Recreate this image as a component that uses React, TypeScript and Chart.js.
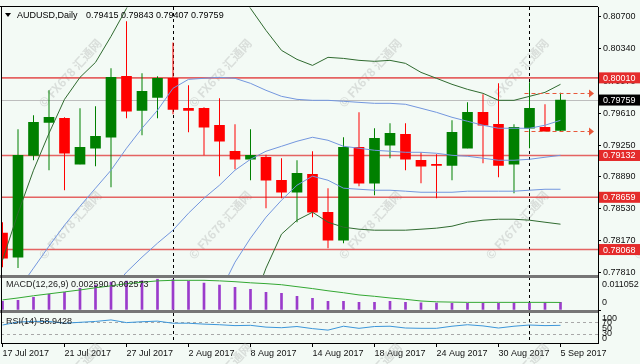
import React, { useEffect, useRef } from 'react';
import { Chart, registerables } from 'chart.js';

Chart.register(...registerables);

// ---------- DATA ----------
const symbolTitle = 'AUDUSD,Daily';
const dates = ['17 Jul 2017','18 Jul 2017','19 Jul 2017','20 Jul 2017','21 Jul 2017','24 Jul 2017','25 Jul 2017','26 Jul 2017','27 Jul 2017','28 Jul 2017','31 Jul 2017','1 Aug 2017','2 Aug 2017','3 Aug 2017','4 Aug 2017','7 Aug 2017','8 Aug 2017','9 Aug 2017','10 Aug 2017','11 Aug 2017','14 Aug 2017','15 Aug 2017','16 Aug 2017','17 Aug 2017','18 Aug 2017','21 Aug 2017','22 Aug 2017','23 Aug 2017','24 Aug 2017','25 Aug 2017','28 Aug 2017','29 Aug 2017','30 Aug 2017','31 Aug 2017','1 Sep 2017','4 Sep 2017','5 Sep 2017'];
const opens = [0.78253,0.77982,0.79134,0.79507,0.79552,0.79033,0.79214,0.79338,0.80027,0.79643,0.79790,0.80005,0.79666,0.79666,0.79474,0.79180,0.79089,0.79112,0.78852,0.78716,0.78920,0.78490,0.78174,0.79225,0.78818,0.79248,0.79372,0.79078,0.79033,0.79021,0.79214,0.79620,0.79485,0.79033,0.79440,0.79451,0.79415];
const highs = [0.78377,0.79428,0.79587,0.79869,0.79564,0.79666,0.79688,0.80118,0.80649,0.80061,0.80027,0.80411,0.79926,0.79677,0.79779,0.79485,0.79428,0.79140,0.79101,0.79078,0.79180,0.78762,0.79338,0.79620,0.79440,0.79496,0.79496,0.79168,0.79146,0.79530,0.79733,0.79824,0.79948,0.79485,0.79960,0.79711,0.79843];
const lows = [0.77869,0.77858,0.79078,0.78965,0.78739,0.79033,0.79010,0.78773,0.79553,0.79361,0.79553,0.79598,0.79394,0.79134,0.78897,0.78976,0.78852,0.78536,0.78649,0.78377,0.78434,0.78084,0.78140,0.78784,0.78683,0.79101,0.78965,0.78818,0.78649,0.78852,0.79214,0.79044,0.78886,0.78705,0.79214,0.79406,0.79407];
const closes = [0.77971,0.79134,0.79507,0.79564,0.79157,0.79225,0.79350,0.80016,0.79632,0.79858,0.80005,0.79654,0.79643,0.79451,0.79293,0.79089,0.79134,0.78852,0.78716,0.78931,0.78490,0.78174,0.79225,0.78818,0.79327,0.79383,0.79089,0.79010,0.79021,0.79394,0.79620,0.79474,0.79021,0.79451,0.79666,0.79406,0.79759];

const bandOuterUpper = [0.77948,0.78479,0.78965,0.79383,0.79767,0.80016,0.80185,0.80479,0.80796,0.81135,null,null,null,null,null,0.81044,0.80796,0.80547,0.80321,0.80219,0.80151,0.80242,0.80230,0.80208,0.80197,0.80208,0.80174,0.80072,0.80005,0.79937,0.79880,0.79835,0.79756,0.79756,0.79801,0.79846,0.79937];
const bandInnerUpper = [null,0.77609,0.77858,0.78106,0.78344,0.78558,0.78762,0.78965,0.79214,0.79440,0.79643,0.79892,0.79993,0.80005,0.80016,0.80005,0.79948,0.79869,0.79801,0.79767,0.79756,0.79756,0.79745,0.79733,0.79722,0.79722,0.79711,0.79666,0.79620,0.79564,0.79519,0.79474,0.79440,0.79440,0.79440,0.79474,0.79530];
const bandMiddle = [null,null,null,null,null,null,null,0.77609,0.77812,0.77982,0.78140,0.78287,0.78479,0.78649,0.78796,0.78965,0.79089,0.79180,0.79236,0.79293,0.79338,0.79304,0.79236,0.79214,0.79191,0.79180,0.79168,0.79168,0.79157,0.79134,0.79123,0.79101,0.79078,0.79078,0.79089,0.79112,0.79134];
const bandInnerLower = [null,null,null,null,null,null,null,null,null,null,null,null,null,null,0.77575,0.77925,0.78197,0.78434,0.78626,0.78796,0.78898,0.78852,0.78762,0.78750,0.78739,0.78739,0.78728,0.78716,0.78716,0.78716,0.78728,0.78728,0.78728,0.78728,0.78739,0.78750,0.78750];
const bandOuterLower = [null,null,null,null,null,null,null,null,null,null,null,null,null,null,null,null,0.77383,0.77858,0.78242,0.78400,0.78490,0.78377,0.78321,0.78298,0.78287,0.78287,0.78287,0.78298,0.78310,0.78332,0.78377,0.78400,0.78411,0.78411,0.78400,0.78377,0.78355];

const macdMain = [0.00295,0.00332,0.00442,0.00553,0.00626,0.00774,0.00884,0.00995,0.01032,0.01040,0.011052,0.01090,0.01032,0.00958,0.00884,0.00810,0.00737,0.00626,0.00589,0.00479,0.00405,0.00295,0.00295,0.00258,0.00258,0.00295,0.00258,0.00240,0.00230,0.00225,0.00225,0.00225,0.00225,0.00230,0.00235,0.00240,0.00259];
const macdSignal = [0.0035,0.0042,0.0050,0.0057,0.0064,0.0071,0.0079,0.0086,0.0094,0.0099,0.0104,0.0106,0.0106,0.0106,0.0104,0.0101,0.0097,0.0094,0.0090,0.0083,0.0076,0.0068,0.0061,0.0053,0.0048,0.0042,0.0037,0.0031,0.0028,0.0027,0.0026,0.0026,0.0026,0.0026,0.0026,0.0026,0.002573];
const rsiValues = [60,70,72,72,66,69,72,77,68,71,73,66,66,63,61,58,59,53,51,55,48,43,56,49,55,56,50,49,49,56,61,57,50,56,60,58,58.9428];

const priceTicks = [0.80700,0.80340,0.79970,0.79610,0.79250,0.78890,0.78530,0.78170,0.77810];
const levelLines = [0.80010,0.79132,0.78659,0.78068];
const dateTickIndex = [0,4,8,12,16,20,24,28,32,36];
const monthStarts = ['1 Aug 2017','1 Sep 2017'];
const rsiLevels = [70,30];
const rsiAxisLabels = [100,70,50,30,0];
const watermark = '© FX678 汇通网';

// ---------- STYLE / LAYOUT ----------
const W = 640, H = 364;
const PL = 1, PR = 598, PT = 7, PB = 343;
const MAIN_BOTTOM = 275, MACD_TOP = 278, MACD_BOTTOM = 310, RSI_TOP = 313;
const BG = '#F3FAF5';
const GREEN = '#008000', RED = '#FF0000';
const BLUE_BAND = '#7396DE', GREEN_BAND = '#2F6A2F';
const FONT = "'Liberation Sans', Arial, sans-serif";

const mainClip = { left: 0, top: 0, right: 0, bottom: -(PB - MAIN_BOTTOM) };
const macdClip = { left: 0, top: -(MACD_TOP - PT), right: 0, bottom: -(PB - MACD_BOTTOM) };
const rsiClip = { left: 0, top: -(RSI_TOP - PT), right: 0, bottom: 0 };

const idx = dates.map((_, i) => i);
const isUp = idx.map(i => closes[i] >= opens[i]);
const candleColors = idx.map(i => (isUp[i] ? GREEN : RED));

const lineDs = (data: (number | null)[], color: string) => ({
  type: 'line' as const,
  data: idx.map(i => ({ x: i, y: data[i] })),
  borderColor: color,
  borderWidth: 1,
  pointRadius: 0,
  tension: 0,
  spanGaps: false,
  yAxisID: 'y',
  order: 1,
  clip: mainClip,
});

const overlay = {
  id: 'mt4overlay',
  beforeDraw(chart: any) {
    const { ctx } = chart;
    ctx.save();
    ctx.fillStyle = BG;
    ctx.fillRect(0, 0, W, H);
    ctx.restore();
  },
  beforeDatasetsDraw(chart: any) {
    const { ctx } = chart;
    const xs = chart.scales.x, ys = chart.scales.y, yr = chart.scales.yR;
    ctx.save();
    // watermarks
    ctx.beginPath();
    ctx.rect(PL, PT, W - PL, PB - PT + 30);
    ctx.clip();
    ctx.font = "bold 12px 'Noto Sans CJK SC', sans-serif";
    ctx.fillStyle = 'rgba(150,150,150,0.28)';
    ctx.textAlign = 'center';
    ctx.textBaseline = 'middle';
    [73, 225, 377].forEach(cy => {
      [70, 220, 370, 517, 665].forEach(cx => {
        ctx.save();
        ctx.translate(cx, cy);
        ctx.rotate(-48 * Math.PI / 180);
        ctx.fillText(watermark, 0, 0);
        ctx.restore();
      });
    });
    ctx.restore();

    ctx.save();
    // month separators
    ctx.strokeStyle = '#000';
    ctx.lineWidth = 1;
    ctx.setLineDash([3, 3]);
    monthStarts.forEach(d => {
      const i = dates.indexOf(d);
      const x = Math.round(xs.getPixelForValue(i)) + 0.5;
      ctx.beginPath();
      ctx.moveTo(x, PT);
      ctx.lineTo(x, PB);
      ctx.stroke();
    });
    // rsi levels
    ctx.strokeStyle = '#A8A8A8';
    ctx.setLineDash([3, 3]);
    rsiLevels.forEach(v => {
      const y = Math.round(yr.getPixelForValue(v)) + 0.5;
      ctx.beginPath();
      ctx.moveTo(PL, y);
      ctx.lineTo(PR, y);
      ctx.stroke();
    });
    ctx.setLineDash([]);
    // last price line
    const ly = Math.round(ys.getPixelForValue(closes[closes.length - 1])) + 0.5;
    ctx.strokeStyle = '#BDBDBD';
    ctx.beginPath();
    ctx.moveTo(PL, ly);
    ctx.lineTo(PR, ly);
    ctx.stroke();
    // horizontal levels
    ctx.strokeStyle = 'rgba(226,72,72,0.85)';
    ctx.lineWidth = 1.6;
    levelLines.forEach(v => {
      const y = ys.getPixelForValue(v);
      ctx.beginPath();
      ctx.moveTo(PL, y);
      ctx.lineTo(PR, y);
      ctx.stroke();
    });
    ctx.restore();
  },
  afterDatasetsDraw(chart: any) {
    const { ctx } = chart;
    const xs = chart.scales.x, ys = chart.scales.y;
    ctx.save();
    // pane separators
    ctx.fillStyle = '#767676';
    ctx.fillRect(0, MAIN_BOTTOM, PR, MACD_TOP - MAIN_BOTTOM);
    ctx.fillRect(0, MACD_BOTTOM, PR, RSI_TOP - MACD_BOTTOM);
    // frame
    ctx.strokeStyle = '#000';
    ctx.lineWidth = 1;
    ctx.beginPath();
    ctx.moveTo(0, PT - 0.5);
    ctx.lineTo(PR, PT - 0.5);
    ctx.moveTo(PL + 0.5, PT);
    ctx.lineTo(PL + 0.5, PB);
    ctx.stroke();

    // dashed high/low arrows of last bar
    const last = idx.length - 1;
    const xStart = xs.getPixelForValue(last) - 36;
    const xEnd = PR - 4;
    ctx.strokeStyle = '#E8583A';
    ctx.fillStyle = '#E8583A';
    ctx.setLineDash([4, 3]);
    [highs[last], lows[last]].forEach(v => {
      const y = Math.round(ys.getPixelForValue(v)) + 0.5;
      ctx.beginPath();
      ctx.moveTo(xStart, y);
      ctx.lineTo(xEnd - 3, y);
      ctx.stroke();
      ctx.beginPath();
      ctx.moveTo(xEnd - 5, y - 4);
      ctx.lineTo(xEnd, y);
      ctx.lineTo(xEnd - 5, y + 4);
      ctx.closePath();
      ctx.fill();
    });
    ctx.setLineDash([]);

    // title
    ctx.fillStyle = '#000';
    ctx.beginPath();
    ctx.moveTo(5, 13);
    ctx.lineTo(11, 13);
    ctx.lineTo(8, 17);
    ctx.closePath();
    ctx.fill();
    ctx.font = `9px ${FONT}`;
    ctx.textBaseline = 'middle';
    ctx.textAlign = 'left';
    ctx.fillText(symbolTitle, 17, 15.5);
    const ohlc = [opens[last], highs[last], lows[last], closes[last]].map(v => v.toFixed(5)).join(' ');
    ctx.fillText(ohlc, 86, 15.5);

    // indicator labels
    ctx.fillStyle = '#222';
    ctx.fillText(`MACD(12,26,9) ${macdMain[last].toFixed(6)} ${macdSignal[last].toFixed(6)}`, 6, MACD_TOP + 7);
    ctx.fillText(`RSI(14) ${rsiValues[last].toFixed(4)}`, 6, RSI_TOP + 8.5);
    ctx.restore();
  },
  afterDraw(chart: any) {
    const { ctx } = chart;
    const ys = chart.scales.y, ym = chart.scales.yM, yr = chart.scales.yR;
    ctx.save();
    ctx.font = `9px ${FONT}`;
    ctx.textBaseline = 'middle';
    ctx.textAlign = 'left';
    // level boxes
    levelLines.forEach(v => {
      const y = ys.getPixelForValue(v);
      ctx.fillStyle = '#E42B2B';
      ctx.fillRect(PR + 1, y - 5.5, W - PR - 1, 11);
      ctx.fillStyle = '#FFFFFF';
      ctx.fillText(v.toFixed(5), PR + 5, y + 0.5);
    });
    const lp = closes[closes.length - 1];
    const lyy = ys.getPixelForValue(lp);
    ctx.fillStyle = '#000';
    ctx.fillRect(PR + 1, lyy - 5.5, W - PR - 1, 11);
    ctx.fillStyle = '#FFFFFF';
    ctx.fillText(lp.toFixed(5), PR + 5, lyy + 0.5);

    // macd axis labels
    ctx.fillStyle = '#111';
    const macdMax = Math.max(...macdMain);
    const clampM = (y: number) => Math.min(Math.max(y, MACD_TOP + 7), MACD_BOTTOM - 7);
    ctx.fillText(macdMax.toFixed(6), PR + 4, clampM(ym.getPixelForValue(macdMax)));
    ctx.fillText('0', PR + 4, clampM(ym.getPixelForValue(0)));
    // rsi axis labels
    const clampR = (y: number) => Math.min(Math.max(y, RSI_TOP + 6), PB - 4);
    rsiAxisLabels.forEach(v => {
      ctx.fillText(String(v), PR + 4, clampR(yr.getPixelForValue(v)));
    });
    // small ticks for sub panes
    ctx.strokeStyle = '#000';
    ctx.beginPath();
    [ym.getPixelForValue(0)].forEach(y => {
      ctx.moveTo(PR, Math.round(y) + 0.5);
      ctx.lineTo(PR + 3, Math.round(y) + 0.5);
    });
    ctx.stroke();
    ctx.restore();
  },
};

export default function App() {
  const ref = useRef<HTMLCanvasElement>(null);
  useEffect(() => {
    document.body.style.margin = '0';
    const canvas = ref.current as HTMLCanvasElement;
    const chart = new Chart(canvas, {
      type: 'bar',
      data: {
        datasets: [
          lineDs(bandOuterUpper, GREEN_BAND),
          lineDs(bandInnerUpper, BLUE_BAND),
          lineDs(bandMiddle, BLUE_BAND),
          lineDs(bandInnerLower, BLUE_BAND),
          lineDs(bandOuterLower, GREEN_BAND),
          {
            type: 'bar',
            data: idx.map(i => ({ x: i, y: [Math.min(opens[i], closes[i]), Math.max(opens[i], closes[i])] })),
            backgroundColor: candleColors,
            barThickness: 10,
            minBarLength: 1,
            grouped: false,
            yAxisID: 'y',
            order: 2,
            clip: mainClip,
          },
          {
            type: 'bar',
            data: idx.map(i => ({ x: i, y: [lows[i], highs[i]] })),
            backgroundColor: candleColors,
            barThickness: 1,
            inflateAmount: 0,
            grouped: false,
            yAxisID: 'y',
            order: 3,
            clip: mainClip,
          },
          {
            type: 'line',
            data: idx.map(i => ({ x: i, y: macdSignal[i] })),
            borderColor: '#33A833',
            borderWidth: 1,
            pointRadius: 0,
            tension: 0,
            yAxisID: 'yM',
            order: 1,
            clip: macdClip,
          },
          {
            type: 'bar',
            data: idx.map(i => ({ x: i, y: macdMain[i] })),
            backgroundColor: '#9B3CCB',
            barThickness: 2,
            grouped: false,
            yAxisID: 'yM',
            order: 4,
            clip: macdClip,
          },
          {
            type: 'line',
            data: idx.map(i => ({ x: i, y: rsiValues[i] })),
            borderColor: '#3C96DA',
            borderWidth: 1,
            pointRadius: 0,
            tension: 0,
            yAxisID: 'yR',
            order: 1,
            clip: rsiClip,
          },
        ] as any,
      },
      options: {
        responsive: false,
        animation: false,
        devicePixelRatio: 1,
        events: [],
        layout: { padding: { top: PT, left: PL, right: 0, bottom: 0 }, autoPadding: false },
        plugins: { legend: { display: false }, tooltip: { enabled: false }, title: { display: false } },
        scales: {
          x: {
            type: 'linear',
            position: 'bottom',
            min: -0.097,
            max: 38.42,
            offset: false,
            bounds: 'data',
            afterFit: (s: any) => { s.height = H - PB; },
            afterBuildTicks: (s: any) => { s.ticks = dateTickIndex.map(v => ({ value: v })); },
            ticks: {
              callback: (v: any) => dates[v as number],
              align: 'start',
              maxRotation: 0,
              minRotation: 0,
              autoSkip: false,
              font: { family: FONT, size: 9 },
              color: '#111',
              padding: 1,
            },
            grid: { drawOnChartArea: false, drawTicks: true, tickLength: 4, color: '#000', offset: false },
            border: { display: true, color: '#000', width: 1 },
          },
          y: {
            type: 'linear',
            position: 'right',
            min: 0.77011,
            max: 0.80807,
            bounds: 'data',
            beginAtZero: false,
            afterFit: (s: any) => { s.width = W - PR; },
            afterBuildTicks: (s: any) => { s.ticks = priceTicks.map(v => ({ value: v })); },
            ticks: {
              callback: (v: any) => Number(v).toFixed(5),
              font: { family: FONT, size: 9 },
              color: '#111',
              padding: 2,
              autoSkip: false,
            },
            grid: { drawOnChartArea: false, drawTicks: true, tickLength: 3, color: '#000' },
            border: { display: true, color: '#000', width: 1 },
          },
          yM: {
            type: 'linear',
            display: false,
            min: -0.012139,
            max: 0.109614,
            bounds: 'data',
          },
          yR: {
            type: 'linear',
            display: false,
            min: 0,
            max: 1120,
            bounds: 'data',
          },
        },
      } as any,
      plugins: [overlay],
    });
    return () => chart.destroy();
  }, []);
  return <canvas ref={ref} width={W} height={H} style={{ display: 'block', width: W, height: H }} />;
}
